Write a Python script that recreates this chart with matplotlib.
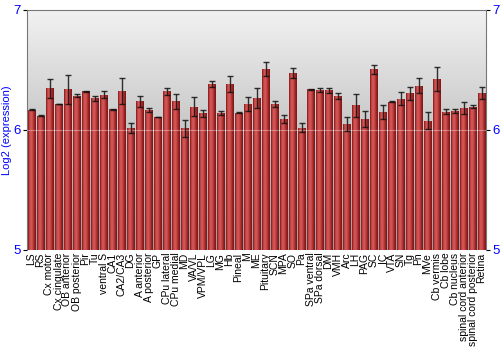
import numpy as np
import matplotlib
matplotlib.use("Agg")
import matplotlib.pyplot as plt
from matplotlib.colors import LinearSegmentedColormap

regions = ["LS", "RS", "Cx motor", "Cx cingulate", "OB anterior", "OB posterior", "Pir", "Tu",
           "ventral S", "CA1", "CA2/CA3", "DG", "A anterior", "A posterior", "GP", "CPu lateral",
           "CPu medial", "MD", "VA/VL", "VPM/VPL", "LG", "MG", "Hb", "Pineal", "M", "ME",
           "Pituitary", "SCN", "MPA", "SO", "Pa", "SPa ventral", "SPa dorsal", "DM", "VMH", "Arc",
           "LH", "PAG", "SC", "IC", "VTA", "SN", "Tg", "Pn", "MVe", "Cb vermis", "Cb lobe",
           "Cb nucleus", "spinal cord anterior", "spinal cord posterior", "Retina"]

expression = [6.167, 6.117, 6.347, 6.214, 6.339, 6.286, 6.322, 6.264, 6.292, 6.172, 6.325, 6.019,
              6.239, 6.167, 6.106, 6.322, 6.239, 6.014, 6.192, 6.139, 6.383, 6.142, 6.383, 6.144,
              6.217, 6.264, 6.508, 6.214, 6.092, 6.472, 6.019, 6.339, 6.331, 6.331, 6.286, 6.047,
              6.203, 6.089, 6.503, 6.150, 6.236, 6.258, 6.303, 6.369, 6.075, 6.422, 6.150, 6.156,
              6.178, 6.192, 6.308]

errors = [0.004, 0.004, 0.078, 0.002, 0.120, 0.015, 0.005, 0.022, 0.030, 0.004, 0.107, 0.042,
          0.047, 0.018, 0.003, 0.030, 0.062, 0.070, 0.080, 0.030, 0.024, 0.017, 0.067, 0.003,
          0.060, 0.086, 0.061, 0.024, 0.035, 0.040, 0.040, 0.003, 0.014, 0.020, 0.025, 0.058,
          0.093, 0.065, 0.040, 0.058, 0.008, 0.055, 0.054, 0.065, 0.072, 0.100, 0.020, 0.017,
          0.050, 0.013, 0.053]

blue = "#0000ff"
font = "Liberation Sans"

fig = plt.figure(figsize=(5, 3.5), dpi=100)
ax = fig.add_axes([0.054, 0.286, 0.918, 0.686])

ymin, ymax = 5, 7
x = np.arange(len(regions))
ax.set_xlim(-0.5, len(regions) - 0.5)
ax.set_ylim(ymin, ymax)

# gray background gradient, light at top
bg = np.linspace(0, 1, 256).reshape(-1, 1)
bg_cmap = LinearSegmentedColormap.from_list("bg", ["#f2f2f2", "#9c9c9c"])
ax.imshow(bg, cmap=bg_cmap, aspect="auto", origin="upper",
          extent=[-0.5, len(regions) - 0.5, ymin, ymax], zorder=0)

bars = ax.bar(x, np.array(expression) - ymin, bottom=ymin, width=0.86,
              color="#b83a3a", zorder=1)

# horizontal shading inside each bar
bar_cmap = LinearSegmentedColormap.from_list(
    "bar", ["#7e1616", "#c84848", "#d65a5a", "#c44444", "#9a2626", "#7a1414"])
shade = np.linspace(0, 1, 64).reshape(1, -1)
for b in bars:
    x0, y0 = b.get_x(), b.get_y()
    im = ax.imshow(shade, cmap=bar_cmap, aspect="auto",
                   extent=[x0, x0 + b.get_width(), y0, y0 + b.get_height()], zorder=2)
    im.set_clip_path(b)

ax.errorbar(x, expression, yerr=errors, fmt="none", ecolor="#111111", elinewidth=1.0,
            capsize=2.2, capthick=1.0, alpha=0.85, zorder=4)

ax.axhline(6, color="white", lw=0.8, alpha=0.35, zorder=3)

ax.set_xticks(x)
ax.set_xticklabels(regions, rotation=90, fontsize=7.5, family=font)
ax.set_yticks([5, 6, 7])
ax.tick_params(axis="y", colors="black", labelcolor=blue, labelsize=9.5, length=3,
               right=True, labelright=True, pad=1.5)
ax.tick_params(axis="x", length=0, pad=2)
for t in ax.yaxis.get_major_ticks():
    t.label1.set_family(font)
    t.label2.set_family(font)
ax.set_ylabel("Log2 (expression)", color=blue, fontsize=8, family=font, labelpad=1)

for side in ["left", "top", "right"]:
    ax.spines[side].set_color("#777777")
ax.spines["bottom"].set_visible(False)

fig.savefig("out.png", dpi=100)
